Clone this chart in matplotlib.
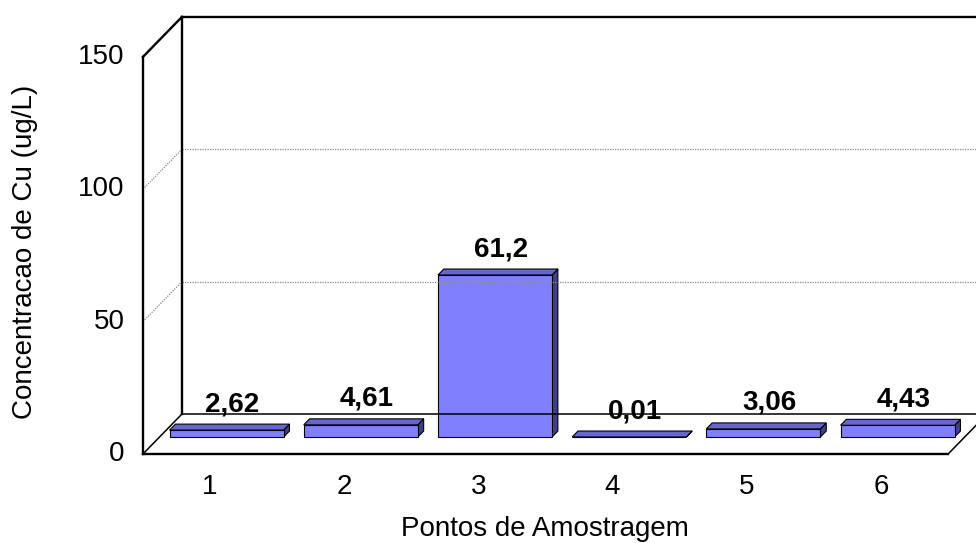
import matplotlib
matplotlib.use('Agg')
import matplotlib.pyplot as plt
from matplotlib.patches import Polygon

plt.rcParams['font.family'] = ['Liberation Sans', 'DejaVu Sans']

# Cu concentration per sampling point
pontos = ['1', '2', '3', '4', '5', '6']
valores = [2.62, 4.61, 61.2, 0.01, 3.06, 4.43]
rotulos = ['2,62', '4,61', '61,2', '0,01', '3,06', '4,43']
yticks = [0, 50, 100, 150]

# pseudo-3d projection: depth d in [0,1] shifts points right/up
DX = 0.2906   # category units for full depth
DY = 15.11    # value units for full depth
D0, D1 = 0.425, 0.575   # bar front/back depth
W = 0.425               # half bar width
XMIN, XMAX = 0.5, 6.5
YMAX = 150
FS = 20


def proj(x, v, d):
    return (x + d * DX, v + d * DY)


fig = plt.figure(figsize=(9.76, 5.43), dpi=100)
ax = fig.add_axes([0, 0, 1, 1])
ax.set_xlim(-0.565, 6.708)
ax.set_ylim(-33.6, 171.5)
ax.axis('off')


def line(p, q, **kw):
    ax.plot([p[0], q[0]], [p[1], q[1]], **kw)


# gridlines on back wall and left side wall
grid = dict(color='#8a8a8a', lw=0.9, ls=(0, (1, 1)))
for g in yticks[1:3]:
    line(proj(XMIN, g, 0), proj(XMIN, g, 1), **grid)
    line(proj(XMIN, g, 1), proj(XMAX + 1, g, 1), **grid)

# walls and floor outline
edge = dict(color='black', lw=1.7, solid_capstyle='projecting')
line(proj(XMIN, 0, 0), proj(XMIN, YMAX, 0), **edge)
line(proj(XMIN, YMAX, 0), proj(XMIN, YMAX, 1), **edge)
line(proj(XMIN, 0, 1), proj(XMIN, YMAX, 1), **edge)
line(proj(XMIN, YMAX, 1), proj(XMAX + 1, YMAX, 1), **edge)
line(proj(XMAX, 0, 1), proj(XMAX, YMAX, 1), **edge)
line(proj(XMIN, 0, 1), proj(XMAX + 1, 0, 1), color='black', lw=1.1)
line(proj(XMIN, 0, 0), proj(XMAX, 0, 0), **edge)
line(proj(XMIN, 0, 0), proj(XMIN, 0, 1), color='black', lw=1.1)
line(proj(XMAX, 0, 0), proj(XMAX, 0, 1), color='black', lw=1.1)

# bars
for i, (v, lab) in enumerate(zip(valores, rotulos), start=1):
    x0, x1 = i - W, i + W
    front = [proj(x0, 0, D0), proj(x1, 0, D0), proj(x1, v, D0), proj(x0, v, D0)]
    top = [proj(x0, v, D0), proj(x1, v, D0), proj(x1, v, D1), proj(x0, v, D1)]
    side = [proj(x1, 0, D0), proj(x1, 0, D1), proj(x1, v, D1), proj(x1, v, D0)]
    ax.add_patch(Polygon(side, closed=True, fc='#40408a', ec='black', lw=0.8))
    ax.add_patch(Polygon(top, closed=True, fc='#6666cc', ec='black', lw=0.8))
    ax.add_patch(Polygon(front, closed=True, fc='#8080ff', ec='black', lw=0.8))
    ax.annotate(lab, xy=proj(i, v, D1), xytext=(0, 5), textcoords='offset points',
                ha='center', va='bottom', fontsize=FS, fontweight='bold')

# y tick labels on the front edge
for t in yticks:
    ax.annotate(str(t), xy=proj(XMIN, t, 0), xytext=(-13, 0), textcoords='offset points',
                ha='right', va='center', fontsize=FS)

# category labels
for i, p in enumerate(pontos, start=1):
    ax.annotate(p, xy=proj(i, 0, 0), xytext=(0, -24), textcoords='offset points',
                ha='center', va='center', fontsize=FS)

fig.text(25 / 976, 1 - 252 / 543, 'Concentracao de Cu (ug/L)', rotation=90,
         ha='center', va='center', fontsize=FS)
fig.text(545 / 976, 1 - 529 / 543, 'Pontos de Amostragem',
         ha='center', va='center', fontsize=FS)

fig.savefig('out.png', dpi=100)
